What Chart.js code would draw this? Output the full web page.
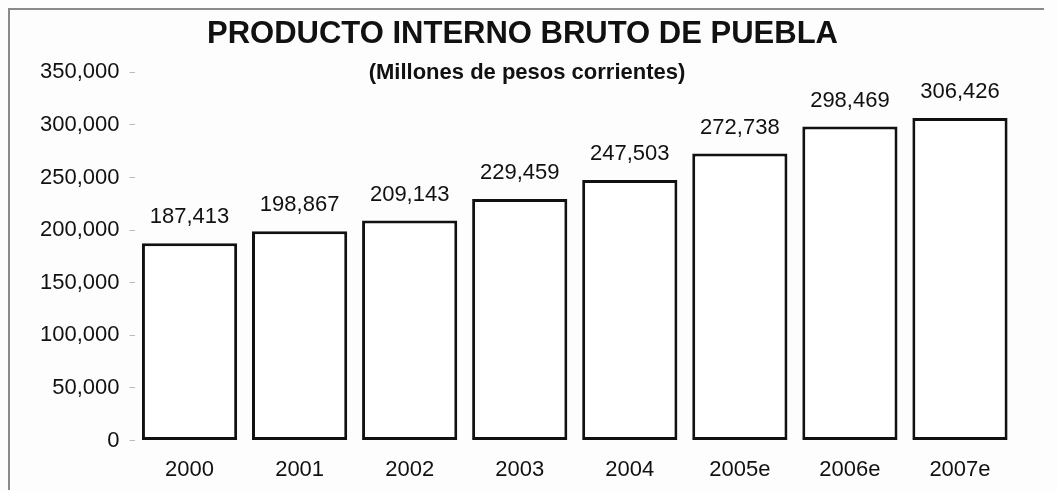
<!DOCTYPE html>
<html>
<head>
<meta charset="utf-8">
<script src="https://cdn.jsdelivr.net/npm/chart.js@4.4.1/dist/chart.umd.min.js"></script>
<style>
  html, body { margin: 0; padding: 0; background: #fdfdfd; }
  #wrap { position: relative; width: 1057px; height: 491px; }
  #frame { position: absolute; left: 8px; top: 8px; width: 1034px; height: 480px;
           border-left: 2px solid #8a8a8a; border-top: 2px solid #8a8a8a; pointer-events: none; }
</style>
</head>
<body>
<div id="wrap">
  <canvas id="pib" width="1057" height="491"></canvas>
  <div id="frame"></div>
</div>
<script>
// data
const years = ["2000", "2001", "2002", "2003", "2004", "2005e", "2006e", "2007e"];
const pibValues = [187413, 198867, 209143, 229459, 247503, 272738, 298469, 306426];
const yTicks = [0, 50000, 100000, 150000, 200000, 250000, 300000, 350000];

const chartTitle = "PRODUCTO INTERNO BRUTO DE PUEBLA";
const chartSubtitle = "(Millones de pesos corrientes)";

const FONT = "'Liberation Sans', Arial, sans-serif";
const fmt = (v) => v.toLocaleString("en-US");

// value labels over bars + subtitle (which sits inside the plot top)
const labelsPlugin = {
    id: "pibLabels",
    afterDatasetsDraw(chart) {
        const ctx = chart.ctx;
        const meta = chart.getDatasetMeta(0);
        ctx.save();
        ctx.fillStyle = "#111";
        ctx.font = "22px " + FONT;
        ctx.textAlign = "center";
        ctx.textBaseline = "middle";
        meta.data.forEach((bar, i) => {
            ctx.fillText(fmt(pibValues[i]), bar.x, bar.y - 26);
        });
        ctx.font = "bold 22px " + FONT;
        ctx.fillText(chartSubtitle, 527, 73);
        ctx.restore();
    },
};

const config = {
    type: "bar",
    data: {
        labels: years,
        datasets: [
            {
                data: pibValues,
                backgroundColor: "#ffffff",
                borderColor: "#111111",
                borderWidth: 3,
                borderSkipped: false,
                barPercentage: 0.865,
                categoryPercentage: 1.0,
            },
        ],
    },
    options: {
        responsive: false,
        animation: false,
        layout: {
            padding: { left: 30, right: 42, top: 0, bottom: 0 },
        },
        plugins: {
            legend: { display: false },
            tooltip: { enabled: false },
            title: {
                display: true,
                text: chartTitle,
                color: "#111",
                font: { family: FONT, size: 31, weight: "bold" },
                padding: { top: 16, bottom: 19 },
            },
        },
        scales: {
            x: {
                grid: { display: false },
                border: { display: false },
                ticks: {
                    color: "#111",
                    font: { family: FONT, size: 22 },
                    padding: 8,
                },
            },
            y: {
                min: 0,
                max: 350000,
                afterBuildTicks: (axis) => {
                    axis.ticks = yTicks.map((v) => ({ value: v }));
                },
                grid: {
                    drawOnChartArea: false,
                    tickLength: 5,
                    color: "#bbbbbb",
                },
                border: { display: false },
                ticks: {
                    color: "#111",
                    font: { family: FONT, size: 22 },
                    padding: 10,
                    callback: (v) => fmt(v),
                },
            },
        },
    },
    plugins: [labelsPlugin],
};

new Chart(document.getElementById("pib"), config);
</script>
</body>
</html>
